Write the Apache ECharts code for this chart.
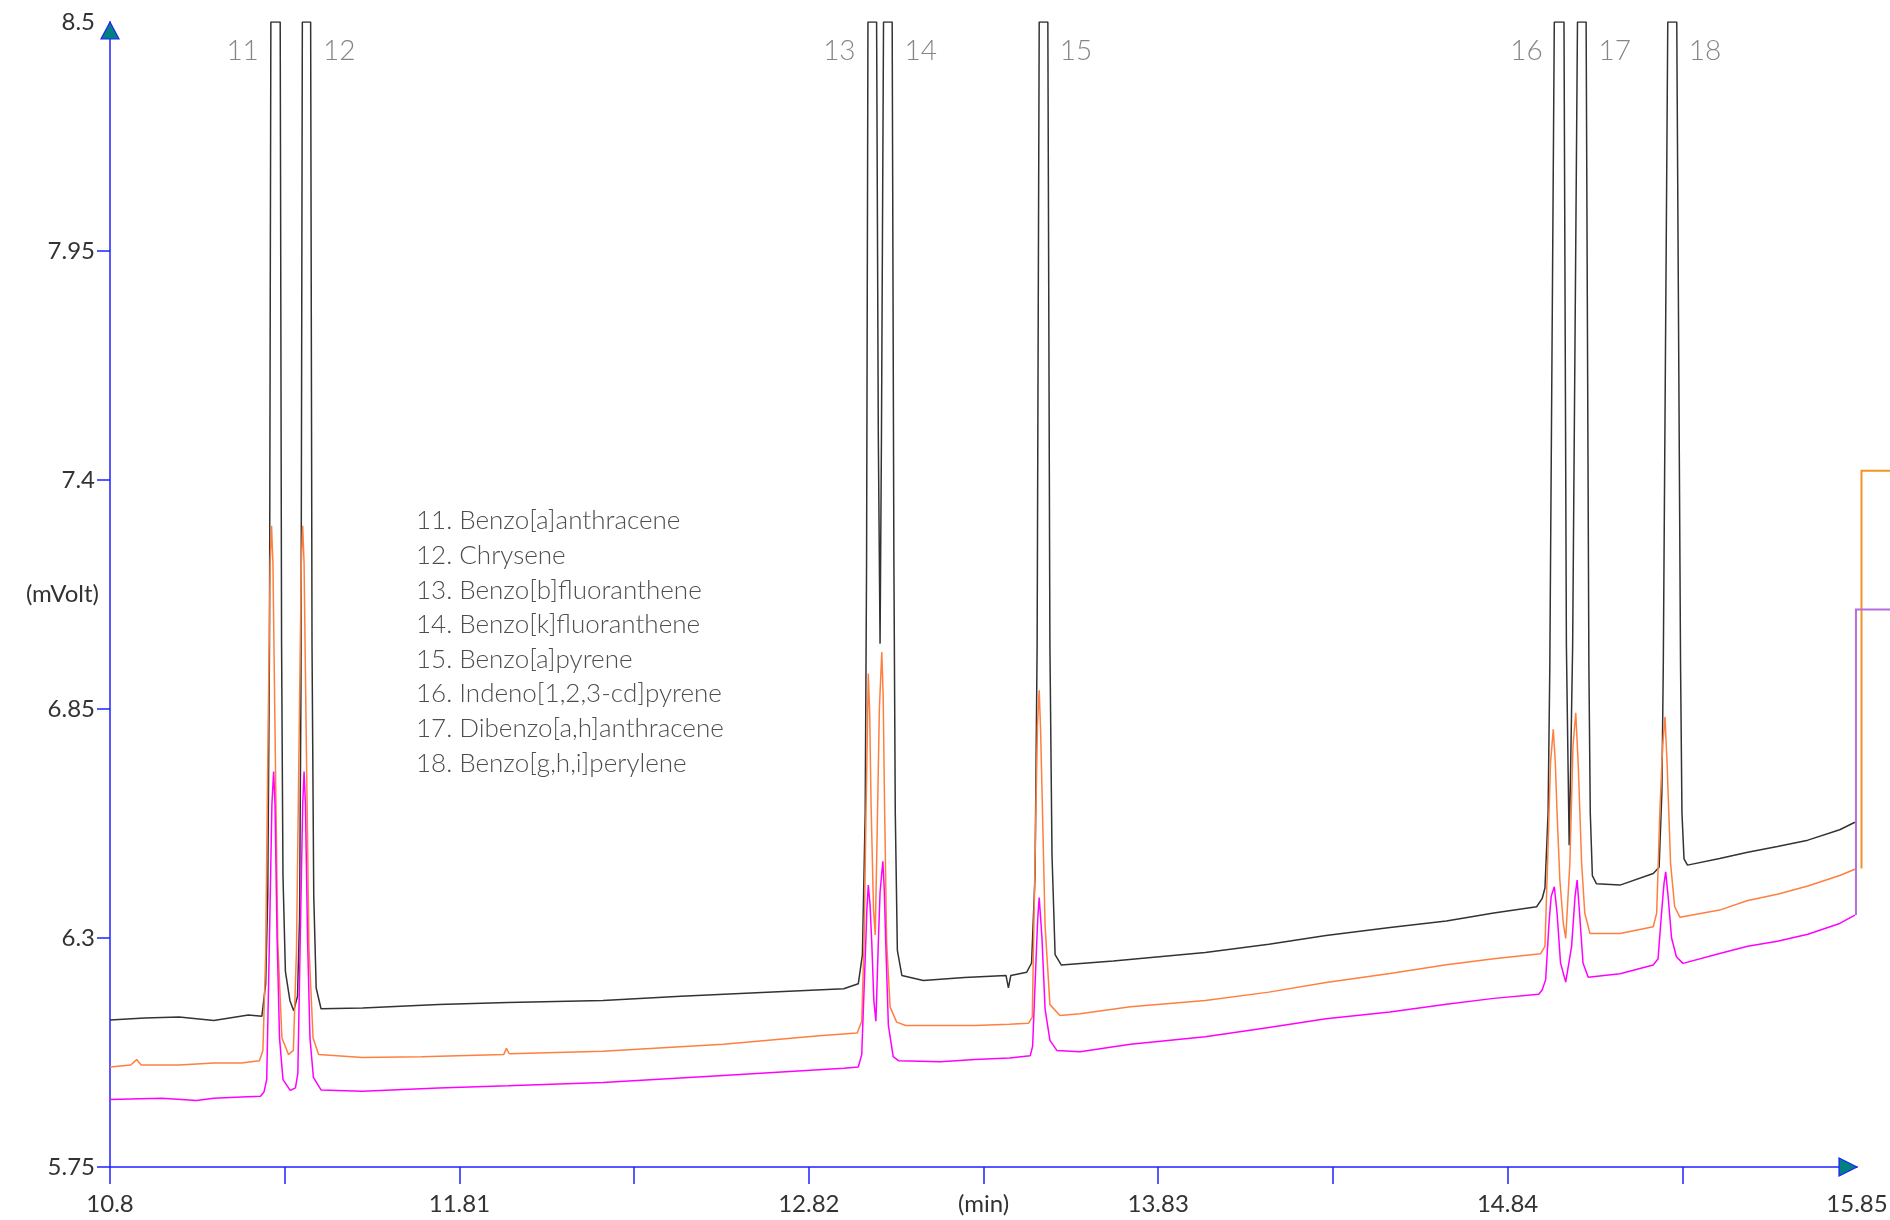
<!DOCTYPE html>
<html>
<head>
<meta charset="utf-8">
<title>PAH chromatogram 11-18</title>
<script src="https://cdn.jsdelivr.net/npm/echarts@6/dist/echarts.min.js"></script>
<style>
  html, body { margin: 0; padding: 0; background: #fff; }
  #chart { width: 1890px; height: 1220px; }
</style>
</head>
<body>
<div id="chart"></div>
<script>
// axis ticks / labels
const xTickValues = [10.8, 11.305, 11.81, 12.315, 12.82, 13.325, 13.83, 14.335, 14.84, 15.345];
const xLabelValues = [10.8, 11.81, 12.82, 13.83, 14.84, 15.85];
const yTickValues = [5.75, 6.3, 6.85, 7.4, 7.95];
const yLabelValues = [5.75, 6.3, 6.85, 7.4, 7.95, 8.5];

// peak numbering
const peakNames = ['11', '12', '13', '14', '15', '16', '17', '18'];
const peakTimes = [11.278, 11.368, 13.003, 13.049, 13.498, 14.989, 15.055, 15.316];
const peakLabelSide = ['left', 'right', 'left', 'right', 'right', 'left', 'right', 'right'];
const peakLabelLevel = 8.43;

const compoundNames = [
  'Benzo[a]anthracene', 'Chrysene', 'Benzo[b]fluoranthene', 'Benzo[k]fluoranthene',
  'Benzo[a]pyrene', 'Indeno[1,2,3-cd]pyrene', 'Dibenzo[a,h]anthracene', 'Benzo[g,h,i]perylene'
];

// traces [min, mVolt] (black one saturates at 8.5)
const blackTrace = [
  [10.800, 6.103], [10.900, 6.108], [11.000, 6.110], [11.100, 6.102], [11.200, 6.115], [11.239, 6.112],
  [11.250, 6.19], [11.256, 6.40], [11.261, 7.00], [11.265, 8.50], [11.292, 8.50], [11.296, 7.00], [11.300, 6.45], [11.307, 6.22], [11.320, 6.15], [11.331, 6.125],
  [11.342, 6.16], [11.348, 6.35], [11.352, 6.90], [11.356, 8.50], [11.380, 8.50], [11.384, 7.00], [11.389, 6.40], [11.396, 6.18], [11.410, 6.13],
  [11.530, 6.132], [11.750, 6.140], [11.950, 6.145], [12.225, 6.150], [12.450, 6.160], [12.700, 6.170], [12.921, 6.178], [12.963, 6.190],
  [12.975, 6.26], [12.983, 6.60], [12.987, 7.20], [12.991, 8.50], [13.016, 8.50], [13.021, 7.50], [13.026, 7.007], [13.030, 7.50], [13.036, 8.50], [13.061, 8.50],
  [13.066, 7.20], [13.070, 6.60], [13.076, 6.27], [13.089, 6.21], [13.151, 6.198],
  [13.270, 6.205], [13.390, 6.210], [13.397, 6.180], [13.404, 6.210], [13.450, 6.218], [13.464, 6.24],
  [13.474, 6.45], [13.480, 7.00], [13.486, 8.50], [13.511, 8.50], [13.517, 7.00], [13.523, 6.50], [13.532, 6.26], [13.550, 6.235],
  [13.700, 6.245], [13.966, 6.265], [14.150, 6.285], [14.315, 6.306], [14.500, 6.325], [14.663, 6.341], [14.800, 6.360], [14.924, 6.375], [14.940, 6.395],
  [14.948, 6.42], [14.957, 6.60], [14.962, 6.95], [14.975, 8.50], [15.003, 8.50], [15.010, 7.00], [15.015, 6.70], [15.018, 6.523],
  [15.022, 6.70], [15.028, 7.00], [15.042, 8.50], [15.067, 8.50], [15.075, 6.95], [15.079, 6.60], [15.085, 6.45], [15.097, 6.43],
  [15.165, 6.427], [15.261, 6.455], [15.278, 6.47],
  [15.286, 6.65], [15.290, 6.95], [15.303, 8.50], [15.329, 8.50], [15.340, 6.95], [15.344, 6.60], [15.350, 6.49], [15.360, 6.475],
  [15.453, 6.491], [15.534, 6.506], [15.620, 6.520], [15.708, 6.535], [15.800, 6.560], [15.844, 6.578]
];

const orangeTrace = [
  [10.800, 5.990], [10.860, 5.995], [10.877, 6.008], [10.890, 5.995], [11.000, 5.995], [11.100, 6.000], [11.180, 6.000], [11.232, 6.005],
  [11.242, 6.03], [11.250, 6.26], [11.257, 6.80], [11.263, 7.20], [11.267, 7.29], [11.271, 7.20], [11.277, 6.80], [11.285, 6.29], [11.297, 6.06], [11.316, 6.02],
  [11.330, 6.03], [11.339, 6.27], [11.347, 6.80], [11.353, 7.20], [11.357, 7.29], [11.361, 7.20], [11.367, 6.80], [11.375, 6.28], [11.387, 6.06], [11.403, 6.02],
  [11.530, 6.013], [11.700, 6.015], [11.938, 6.020], [11.946, 6.035], [11.954, 6.022], [12.225, 6.028], [12.573, 6.045], [12.850, 6.065], [12.960, 6.072],
  [12.973, 6.10], [12.980, 6.30], [12.985, 6.58], [12.988, 6.73], [12.992, 6.935], [12.996, 6.84], [13.000, 6.62], [13.007, 6.37], [13.012, 6.307],
  [13.018, 6.57], [13.024, 6.85], [13.031, 6.987], [13.035, 6.88], [13.039, 6.62], [13.045, 6.29], [13.055, 6.134], [13.074, 6.098], [13.100, 6.090],
  [13.205, 6.090], [13.300, 6.090], [13.400, 6.093], [13.455, 6.095],
  [13.466, 6.11], [13.474, 6.49], [13.481, 6.81], [13.486, 6.895], [13.490, 6.80], [13.494, 6.66], [13.503, 6.33], [13.517, 6.14], [13.546, 6.114], [13.604, 6.118],
  [13.750, 6.135], [13.966, 6.150], [14.150, 6.170], [14.315, 6.193], [14.500, 6.215], [14.663, 6.236], [14.800, 6.250], [14.935, 6.262],
  [14.948, 6.28], [14.957, 6.52], [14.964, 6.72], [14.972, 6.801], [14.978, 6.72], [14.983, 6.60], [14.991, 6.44], [15.001, 6.335], [15.008, 6.299],
  [15.020, 6.48], [15.029, 6.76], [15.037, 6.841], [15.044, 6.72], [15.054, 6.48], [15.063, 6.36], [15.078, 6.311], [15.165, 6.311], [15.261, 6.327],
  [15.271, 6.36], [15.280, 6.60], [15.288, 6.76], [15.295, 6.831], [15.301, 6.72], [15.311, 6.48], [15.323, 6.375], [15.338, 6.350], [15.453, 6.367],
  [15.534, 6.390], [15.620, 6.405], [15.708, 6.425], [15.800, 6.450], [15.844, 6.465]
];

const magentaTrace = [
  [10.800, 5.912], [10.950, 5.915], [11.050, 5.910], [11.100, 5.915], [11.180, 5.918], [11.235, 5.920],
  [11.245, 5.93], [11.253, 5.96], [11.261, 6.30], [11.268, 6.62], [11.273, 6.70], [11.277, 6.62], [11.283, 6.30], [11.290, 6.06], [11.300, 5.96], [11.321, 5.934],
  [11.336, 5.94], [11.343, 5.975], [11.350, 6.30], [11.357, 6.62], [11.361, 6.70], [11.365, 6.62], [11.371, 6.30], [11.378, 6.06], [11.388, 5.965], [11.410, 5.935],
  [11.530, 5.932], [11.750, 5.940], [11.950, 5.945], [12.225, 5.953], [12.573, 5.970], [12.921, 5.987], [12.963, 5.990],
  [12.973, 6.02], [12.983, 6.25], [12.988, 6.37], [12.992, 6.427], [12.997, 6.38], [13.002, 6.29], [13.008, 6.15], [13.014, 6.10],
  [13.021, 6.29], [13.026, 6.41], [13.034, 6.484], [13.038, 6.42], [13.042, 6.30], [13.050, 6.09], [13.064, 6.015], [13.080, 6.005],
  [13.200, 6.003], [13.300, 6.008], [13.400, 6.012], [13.460, 6.017],
  [13.467, 6.04], [13.477, 6.25], [13.482, 6.35], [13.486, 6.397], [13.490, 6.35], [13.494, 6.30], [13.503, 6.13], [13.517, 6.054], [13.537, 6.030], [13.604, 6.027],
  [13.750, 6.045], [13.966, 6.063], [14.150, 6.085], [14.315, 6.106], [14.500, 6.122], [14.663, 6.141], [14.800, 6.155], [14.930, 6.165],
  [14.940, 6.175], [14.950, 6.20], [14.960, 6.34], [14.966, 6.40], [14.975, 6.423], [14.983, 6.36], [14.993, 6.24], [15.008, 6.194],
  [15.025, 6.28], [15.035, 6.40], [15.041, 6.439], [15.048, 6.36], [15.058, 6.24], [15.073, 6.206], [15.165, 6.214], [15.261, 6.235],
  [15.275, 6.25], [15.285, 6.36], [15.292, 6.43], [15.297, 6.459], [15.304, 6.40], [15.314, 6.30], [15.328, 6.255], [15.347, 6.239], [15.453, 6.263],
  [15.534, 6.280], [15.620, 6.292], [15.708, 6.309], [15.800, 6.335], [15.844, 6.355]
];

// offset markers at the right edge
const orangeOffsetMark = [[15.863, 6.467], [15.863, 7.422], [15.95, 7.422]];
const purpleOffsetMark = [[15.847, 6.355], [15.847, 7.089], [15.95, 7.089]];

const FONT = 'Lato, "Open Sans", "DejaVu Sans", sans-serif';
const AXIS_BLUE = '#2020ff';

const chart = echarts.init(document.getElementById('chart'));

function traceSeries(name, data, color) {
  return {
    name: name,
    type: 'line',
    data: data,
    showSymbol: false,
    symbol: 'none',
    silent: true,
    lineStyle: { color: color, width: 1.5 },
    z: 3
  };
}

chart.setOption({
  animation: false,
  backgroundColor: '#ffffff',
  grid: { left: 110, right: 33, top: 22, bottom: 53, containLabel: false, outerBoundsMode: 'none' },
  xAxis: {
    type: 'value',
    min: 10.8,
    max: 15.85,
    name: '(min)',
    nameLocation: 'middle',
    nameGap: 25,
    nameMoveOverlap: false,
    nameTextStyle: { color: '#333', fontSize: 24, fontFamily: FONT },
    axisLine: { onZero: false, lineStyle: { color: AXIS_BLUE, width: 1.5 } },
    axisTick: { show: true, customValues: xTickValues, length: 17, lineStyle: { color: AXIS_BLUE, width: 1.5 } },
    axisLabel: { customValues: xLabelValues, margin: 25, color: '#333', fontSize: 24, fontFamily: FONT },
    splitLine: { show: false }
  },
  yAxis: {
    type: 'value',
    min: 5.75,
    max: 8.5,
    name: '(mVolt)',
    nameLocation: 'middle',
    nameRotate: 0,
    nameGap: 11,
    nameMoveOverlap: false,
    nameTextStyle: { color: '#333', fontSize: 24, fontFamily: FONT },
    axisLine: { show: true, onZero: false, lineStyle: { color: AXIS_BLUE, width: 1.5 } },
    axisTick: { show: true, customValues: yTickValues, length: 13, lineStyle: { color: AXIS_BLUE, width: 1.5 } },
    axisLabel: { customValues: yLabelValues, margin: 15, color: '#333', fontSize: 24, fontFamily: FONT },
    splitLine: { show: false }
  },
  series: [
    traceSeries('black', blackTrace, '#333333'),
    traceSeries('orange', orangeTrace, '#ff7f40'),
    traceSeries('magenta', magentaTrace, '#ff00ff'),
    {
      type: 'scatter',
      symbolSize: 1,
      silent: true,
      itemStyle: { color: 'rgba(0,0,0,0)' },
      data: peakNames.map((n, i) => ({
        name: n,
        value: [peakTimes[i], peakLabelLevel],
        label: { position: peakLabelSide[i] }
      })),
      label: {
        show: true,
        distance: 16,
        formatter: p => p.name,
        color: '#666',
        fontSize: 28,
        fontWeight: 300,
        fontFamily: FONT
      },
      z: 4
    }
  ]
});

// compound list, offset markers and axis arrow heads
const legendTexts = compoundNames.map((n, i) => ({
  type: 'text',
  x: 416,
  y: 521 + i * 34.6,
  silent: true,
  style: {
    text: peakNames[i] + '. ' + n,
    fill: '#4e4e4e',
    fontSize: 26,
    fontWeight: 300,
    fontFamily: FONT,
    verticalAlign: 'middle'
  }
}));

const toPx = pts => pts.map(p => chart.convertToPixel({ gridIndex: 0 }, p));
const offsetMarks = [
  { pts: orangeOffsetMark, color: '#f29322' },
  { pts: purpleOffsetMark, color: '#b56ede' }
].map(m => ({
  type: 'polyline',
  silent: true,
  z: 5,
  shape: { points: toPx(m.pts) },
  style: { stroke: m.color, lineWidth: 2, fill: null }
}));

const topPt = chart.convertToPixel({ gridIndex: 0 }, [10.8, 8.5]);
const endPt = chart.convertToPixel({ gridIndex: 0 }, [15.85, 5.75]);
const arrowStyle = { fill: '#008080', stroke: AXIS_BLUE, lineWidth: 1.2 };

chart.setOption({
  graphic: legendTexts.concat(offsetMarks, [
    {
      type: 'polygon',
      silent: true,
      z: 10,
      shape: { points: [[topPt[0], topPt[1]], [topPt[0] - 9, topPt[1] + 17], [topPt[0] + 9, topPt[1] + 17]] },
      style: arrowStyle
    },
    {
      type: 'polygon',
      silent: true,
      z: 10,
      shape: { points: [[endPt[0], endPt[1]], [endPt[0] - 18, endPt[1] - 9], [endPt[0] - 18, endPt[1] + 9]] },
      style: arrowStyle
    }
  ])
});
</script>
</body>
</html>
